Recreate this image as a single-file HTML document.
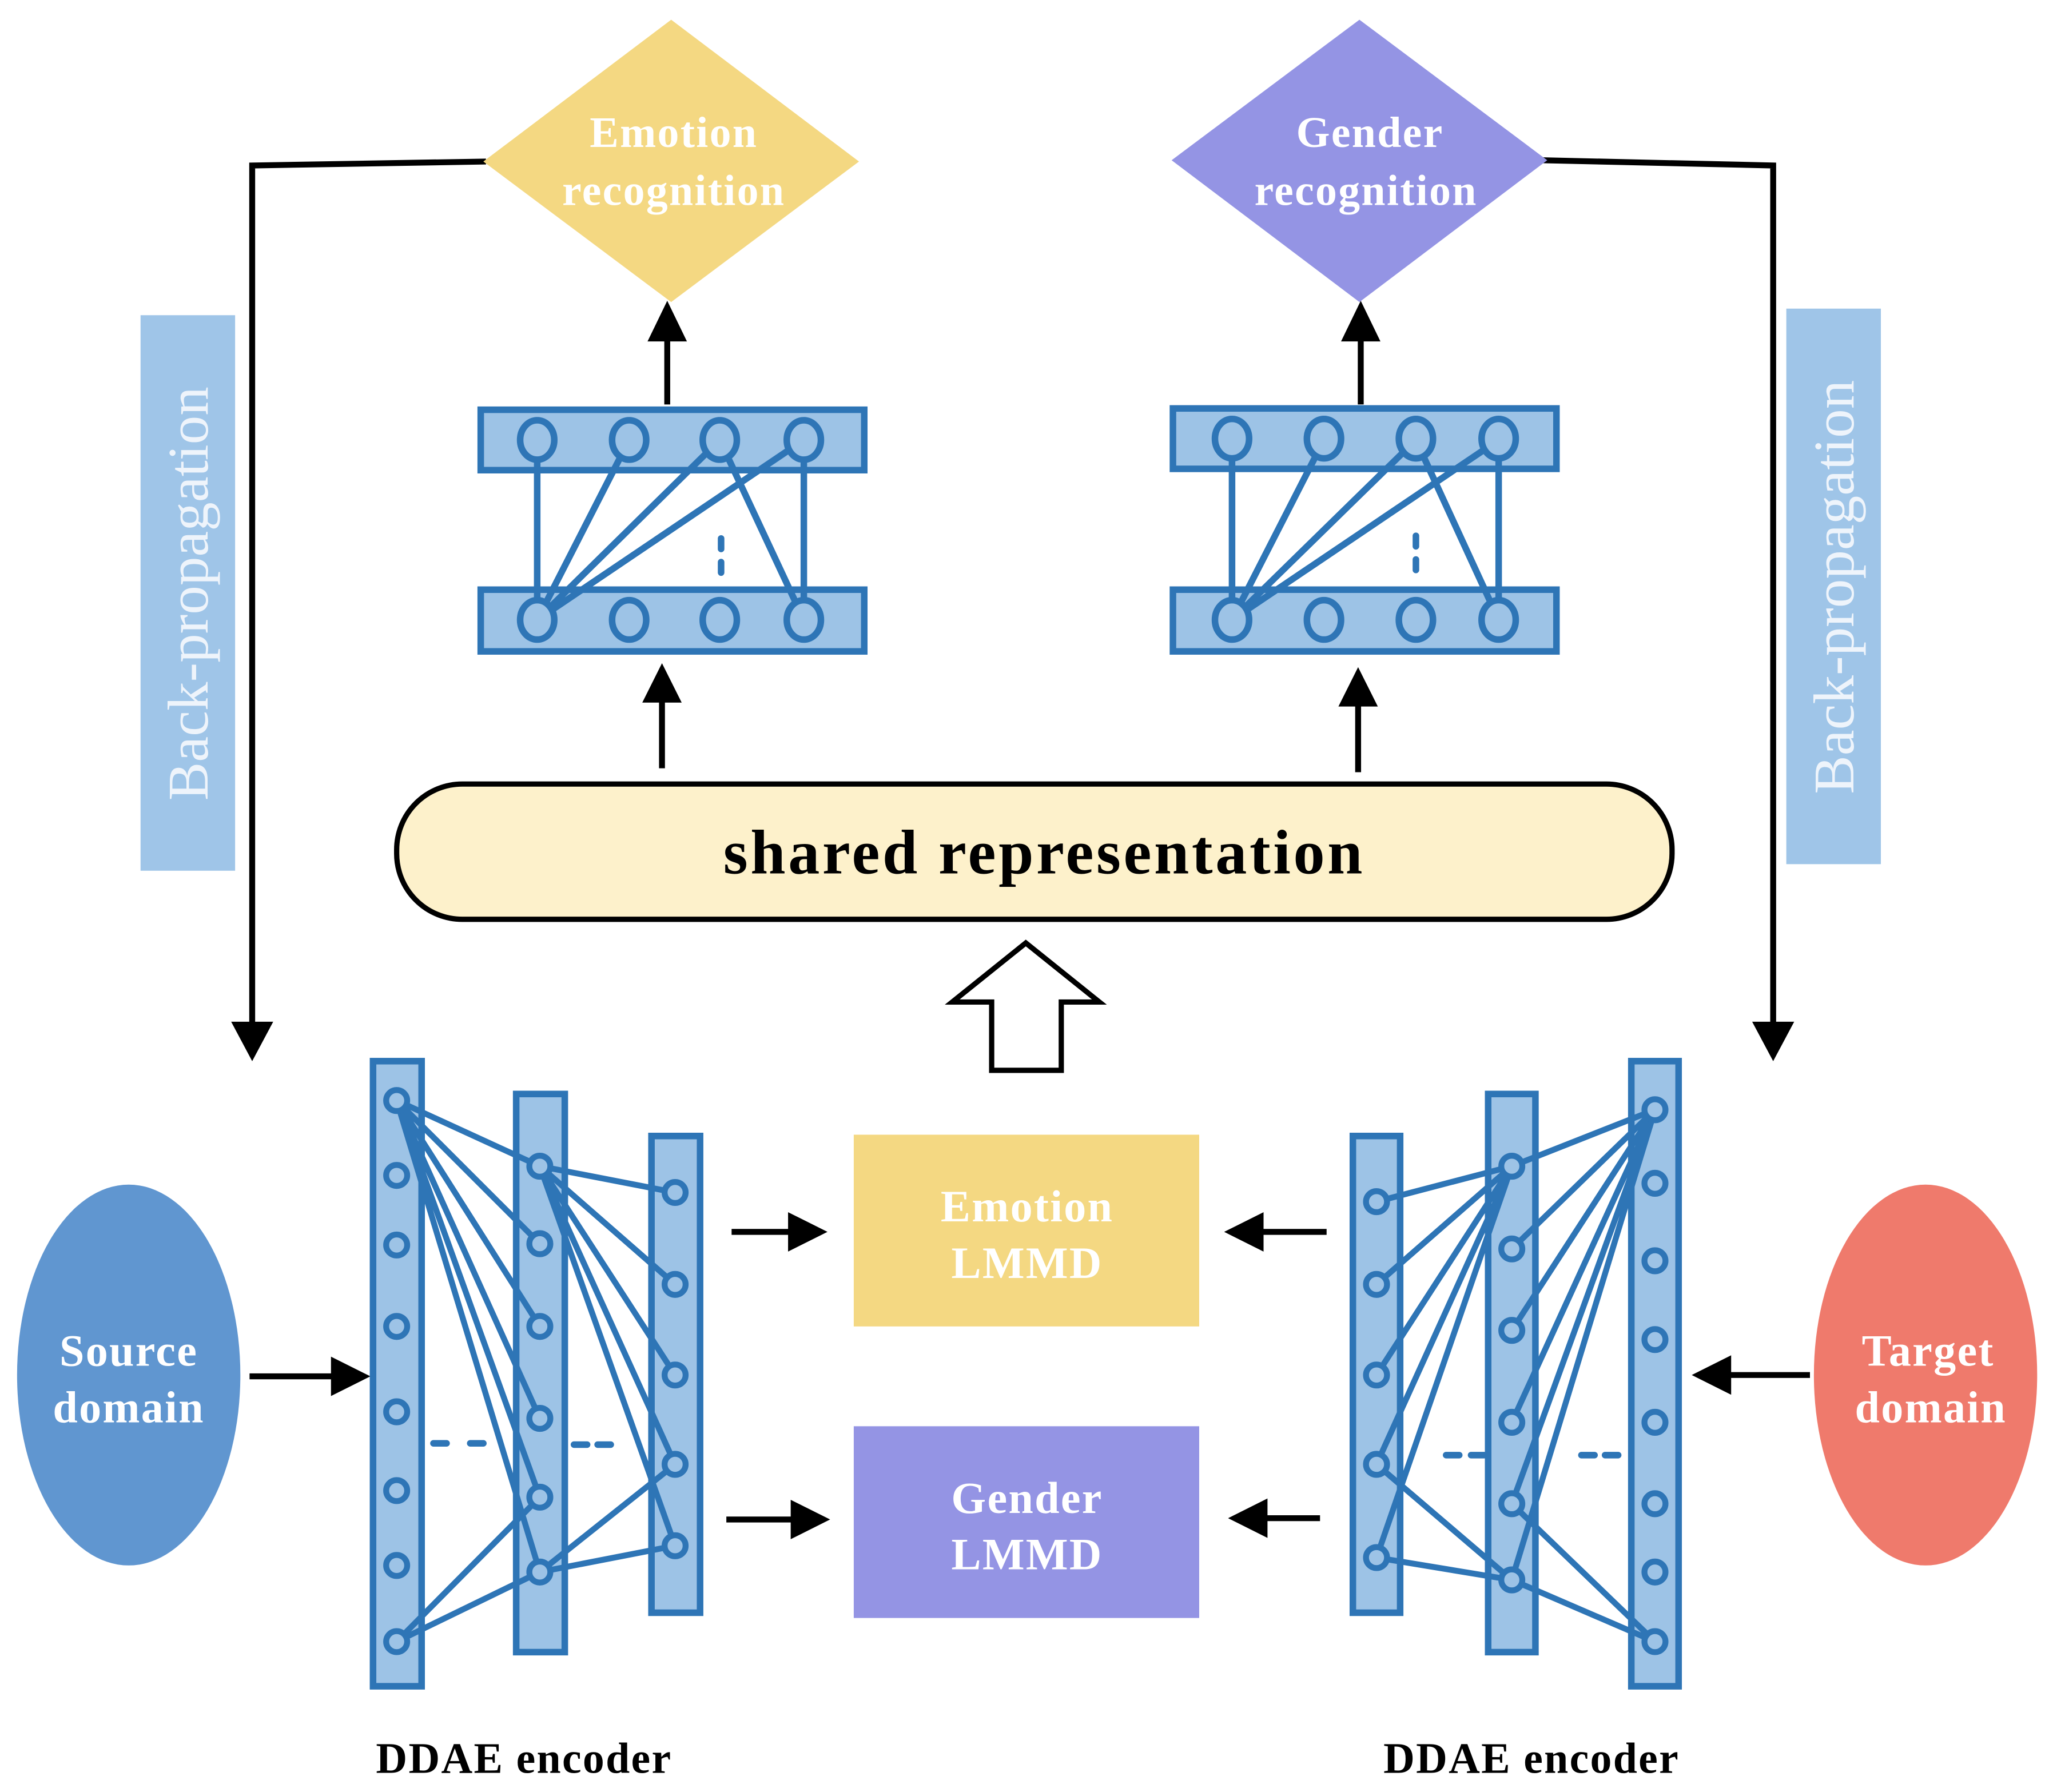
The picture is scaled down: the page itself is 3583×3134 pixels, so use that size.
<!DOCTYPE html>
<html><head><meta charset="utf-8"><style>html,body{margin:0;padding:0;background:#fff}svg{display:block}</style></head>
<body>
<svg width="3583" height="3134" viewBox="0 0 1560 1364.5" preserveAspectRatio="none" xmlns="http://www.w3.org/2000/svg" font-family="Liberation Serif, serif">
<g fill="none" stroke="#000" stroke-width="4.5">
<polyline points="370,123 192,126 192,790"/>
<polyline points="1173,122 1350,126 1350,790"/>
<line x1="190" y1="1048" x2="262" y2="1048"/>
<line x1="1378" y1="1047" x2="1308" y2="1047"/>
<line x1="557" y1="938" x2="612" y2="938"/>
<line x1="553" y1="1157" x2="614" y2="1157"/>
<line x1="1010" y1="938" x2="950" y2="938"/>
<line x1="1005" y1="1156" x2="953" y2="1156"/>
<line x1="504" y1="585" x2="504" y2="525"/>
<line x1="1034" y1="588" x2="1034" y2="528"/>
<line x1="508" y1="308" x2="508" y2="250"/>
<line x1="1036" y1="308" x2="1036" y2="250"/>
</g>
<g fill="#000">
<polygon points="176,778 208,778 192,808"/>
<polygon points="1334,778 1366,778 1350,808"/>
<polygon points="252,1033 282,1048 252,1063"/>
<polygon points="1318,1032 1288,1047 1318,1062"/>
<polygon points="600,923 630,938 600,953"/>
<polygon points="602,1142 632,1157 602,1172"/>
<polygon points="962,923 932,938 962,953"/>
<polygon points="965,1141 935,1156 965,1171"/>
<polygon points="489,535 519,535 504,505"/>
<polygon points="1019,538 1049,538 1034,508"/>
<polygon points="493,260 523,260 508,229"/>
<polygon points="1021,260 1051,260 1036,229"/>
</g>
<rect x="107" y="240" width="72" height="423" fill="#9fc5e8"/>
<rect x="1360" y="235" width="72" height="423" fill="#9fc5e8"/>
<text transform="translate(158,452) rotate(-90)" text-anchor="middle" font-size="44" fill="#eef4fb">Back-propagation</text>
<text transform="translate(1411,447) rotate(-90)" text-anchor="middle" font-size="44" fill="#eef4fb">Back-propagation</text>
<polygon points="511,15 654,123 511,230 368,123" fill="#f4d882"/>
<polygon points="1035,15 1178,122 1035,230 892,122" fill="#9494e4"/>
<g fill="#fff" font-weight="bold" font-size="33" text-anchor="middle" letter-spacing="1">
<text x="513" y="112">Emotion</text><text x="513" y="156">recognition</text>
<text x="1043" y="112">Gender</text><text x="1040" y="156">recognition</text>
</g>
<rect x="302" y="597" width="971" height="103" rx="50" fill="#fdf1cb" stroke="#000" stroke-width="4"/>
<text x="795" y="665" text-anchor="middle" font-size="48" font-weight="bold" letter-spacing="2">shared representation</text>
<polygon points="755,815 808,815 808,763 837,763 781,718 725,763 755,763" fill="#fff" stroke="#000" stroke-width="4"/>
<ellipse cx="98" cy="1047" rx="85" ry="145" fill="#6096d0"/>
<ellipse cx="1466" cy="1047" rx="85" ry="145" fill="#ef7a6c"/>
<g fill="#fff" font-weight="bold" font-size="34" text-anchor="middle" letter-spacing="1">
<text x="98" y="1040">Source</text><text x="98" y="1083">domain</text>
<text x="1468" y="1040">Target</text><text x="1470" y="1083">domain</text>
</g>
<rect x="650" y="864" width="263" height="146" fill="#f4d882"/>
<rect x="650" y="1086" width="263" height="146" fill="#9494e4"/>
<g fill="#fff" font-weight="bold" font-size="34" text-anchor="middle" letter-spacing="1">
<text x="782" y="930">Emotion</text><text x="782" y="973">LMMD</text>
<text x="782" y="1152">Gender</text><text x="782" y="1195">LMMD</text>
</g>
<g stroke="#2e75b6" stroke-width="5" fill="#9dc3e6">
<rect x="366" y="312" width="292" height="46"/><rect x="366" y="449" width="292" height="47"/>
<rect x="893" y="311" width="292" height="46"/><rect x="893" y="449" width="292" height="47"/>
</g>
<g stroke="#2e75b6" stroke-width="5" fill="none">
<path d="M409,335V472M612,335V472M409,472L479,335M409,472L548,335M409,472L612,335M548,335L612,472"/>
<path d="M938,335V472M1141,335V472M938,472L1008,335M938,472L1078,335M938,472L1141,335M1078,335L1141,472"/>
<path d="M549,410v8M549,428v8M1078,408v8M1078,426v8" stroke-linecap="round"/>
</g>
<g stroke="#2e75b6" stroke-width="5" fill="#9dc3e6">
<ellipse cx="409" cy="335" rx="13" ry="15"/><ellipse cx="479" cy="335" rx="13" ry="15"/><ellipse cx="548" cy="335" rx="13" ry="15"/><ellipse cx="612" cy="335" rx="13" ry="15"/>
<ellipse cx="409" cy="472" rx="13" ry="15"/><ellipse cx="479" cy="472" rx="13" ry="15"/><ellipse cx="548" cy="472" rx="13" ry="15"/><ellipse cx="612" cy="472" rx="13" ry="15"/>
<ellipse cx="938" cy="334" rx="13" ry="15"/><ellipse cx="1008" cy="334" rx="13" ry="15"/><ellipse cx="1078" cy="334" rx="13" ry="15"/><ellipse cx="1141" cy="334" rx="13" ry="15"/>
<ellipse cx="938" cy="472" rx="13" ry="15"/><ellipse cx="1008" cy="472" rx="13" ry="15"/><ellipse cx="1078" cy="472" rx="13" ry="15"/><ellipse cx="1141" cy="472" rx="13" ry="15"/>
</g>
<g stroke="#2e75b6" stroke-width="5" fill="#9dc3e6">
<rect x="284" y="808" width="37" height="476"/><rect x="393" y="833" width="37" height="425"/><rect x="496" y="865" width="37" height="363"/>
<rect x="1030" y="865" width="36" height="363"/><rect x="1133" y="833" width="36" height="425"/><rect x="1242" y="808" width="36" height="476"/>
</g>
<g stroke="#2e75b6" stroke-width="4.5" fill="none">
<path d="M302,838L411,888M302,838L411,947M302,838L411,1010M302,838L411,1080M302,838L411,1140M302,838L411,1197M302,1250L411,1140M302,1250L411,1197"/>
<path d="M411,888L514,908M411,888L514,978M411,888L514,1047M411,888L514,1115M411,888L514,1177M411,1197L514,1115M411,1197L514,1177"/>
<path d="M1260,845L1151,888M1260,845L1151,951M1260,845L1151,1013M1260,845L1151,1083M1260,845L1151,1145M1260,845L1151,1203M1260,1250L1151,1145M1260,1250L1151,1203"/>
<path d="M1151,888L1048,915M1151,888L1048,978M1151,888L1048,1047M1151,888L1048,1115M1151,888L1048,1186M1151,1203L1048,1115M1151,1203L1048,1186"/>
<path d="M330,1099h10M358,1099h10M437,1100h10M455,1100h10M1101,1108h10M1120,1108h10M1204,1108h10M1222,1108h10" stroke-linecap="round" stroke-width="5"/>
</g>
<g stroke="#2e75b6" stroke-width="4.5" fill="#9dc3e6">
<circle cx="302" cy="838" r="8"/><circle cx="302" cy="895" r="8"/><circle cx="302" cy="948" r="8"/><circle cx="302" cy="1010" r="8"/><circle cx="302" cy="1075" r="8"/><circle cx="302" cy="1135" r="8"/><circle cx="302" cy="1192" r="8"/><circle cx="302" cy="1250" r="8"/>
<circle cx="411" cy="888" r="8"/><circle cx="411" cy="947" r="8"/><circle cx="411" cy="1010" r="8"/><circle cx="411" cy="1080" r="8"/><circle cx="411" cy="1140" r="8"/><circle cx="411" cy="1197" r="8"/>
<circle cx="514" cy="908" r="8"/><circle cx="514" cy="978" r="8"/><circle cx="514" cy="1047" r="8"/><circle cx="514" cy="1115" r="8"/><circle cx="514" cy="1177" r="8"/>
<circle cx="1048" cy="915" r="8"/><circle cx="1048" cy="978" r="8"/><circle cx="1048" cy="1047" r="8"/><circle cx="1048" cy="1115" r="8"/><circle cx="1048" cy="1186" r="8"/>
<circle cx="1151" cy="888" r="8"/><circle cx="1151" cy="951" r="8"/><circle cx="1151" cy="1013" r="8"/><circle cx="1151" cy="1083" r="8"/><circle cx="1151" cy="1145" r="8"/><circle cx="1151" cy="1203" r="8"/>
<circle cx="1260" cy="845" r="8"/><circle cx="1260" cy="901" r="8"/><circle cx="1260" cy="960" r="8"/><circle cx="1260" cy="1020" r="8"/><circle cx="1260" cy="1083" r="8"/><circle cx="1260" cy="1145" r="8"/><circle cx="1260" cy="1197" r="8"/><circle cx="1260" cy="1250" r="8"/>
</g>
<g font-weight="bold" font-size="33" text-anchor="middle" letter-spacing="1">
<text x="399" y="1350">DDAE encoder</text>
<text x="1166" y="1350">DDAE encoder</text>
</g>
</svg>
</body></html>
